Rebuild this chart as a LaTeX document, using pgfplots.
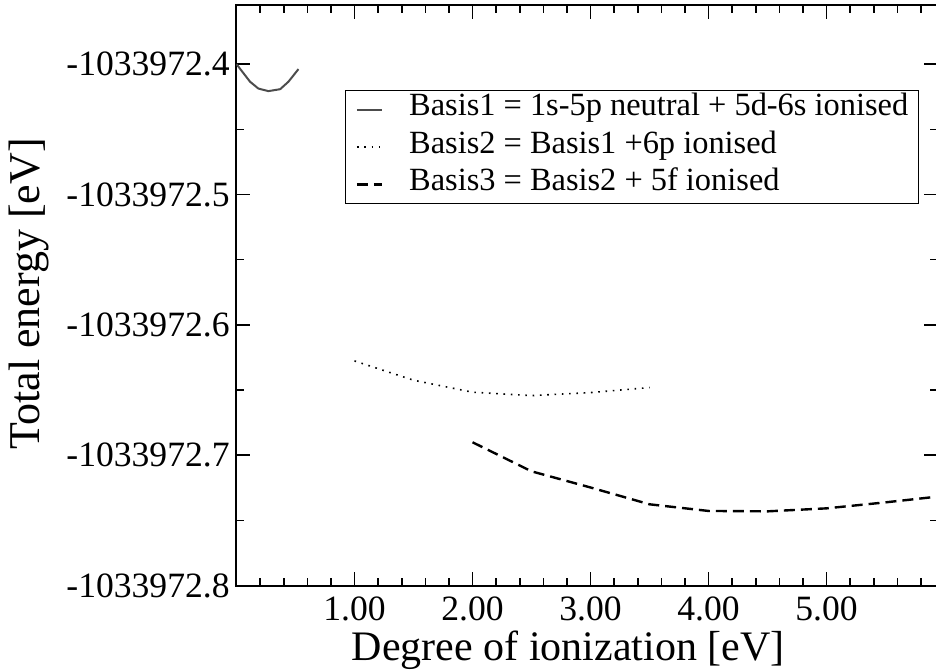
\documentclass[border=0pt]{standalone}
\usepackage{fontspec}
\setmainfont{Liberation Serif}
\usepackage{pgfplots}
\pgfplotsset{compat=1.18}
% y values are total energies written as E + 1033972 (eV)
\begin{document}
\begin{tikzpicture}
\begin{axis}[
  scale only axis, width=350.5pt, height=290pt,
  xmin=0, xmax=5.94, ymin=-0.8, ymax=-0.355,
  axis line style={line width=1pt},
  every tick/.style={black, line width=0.8pt},
  major tick length=7pt, minor tick length=4pt,
  tick align=inside,
  xtick={1,2,3,4,5},
  xticklabels={\textrm{1.00},\textrm{2.00},\textrm{3.00},\textrm{4.00},\textrm{5.00}},
  minor xtick={0.2,0.4,0.6,0.8,1.2,1.4,1.6,1.8,2.2,2.4,2.6,2.8,3.2,3.4,3.6,3.8,4.2,4.4,4.6,4.8,5.2,5.4,5.6,5.8},
  ytick={-0.8,-0.7,-0.6,-0.5,-0.4},
  yticklabels={\textrm{-1033972.8},\textrm{-1033972.7},\textrm{-1033972.6},\textrm{-1033972.5},\textrm{-1033972.4}},
  minor ytick={-0.75,-0.65,-0.55,-0.45},
  /pgf/number format/assume math mode=true,
  ticklabel style={font=\rmfamily\fontsize{17.8}{21}\selectfont},
  xticklabel style={inner sep=0pt, yshift=-5.5pt},
  yticklabel style={inner sep=0pt, xshift=-3.25pt},
  xlabel={Degree of ionization [eV]},
  ylabel={Total energy [eV]},
  label style={inner sep=0pt},
  xlabel style={font=\rmfamily\fontsize{21}{25}\selectfont,
    at={(axis description cs:0.473,0)}, anchor=north, yshift=-22.4pt},
  ylabel style={font=\rmfamily\fontsize{22}{26}\selectfont,
    at={(axis description cs:-0.296,0.503)}, anchor=center},
  legend cell align=left,
  legend style={at={(rel axis cs:0.155,0.854)}, anchor=north west,
    draw=black, line width=0.6pt, fill=white,
    inner xsep=5pt, inner ysep=0pt, column sep=13pt, row sep=0pt,
    font=\rmfamily\fontsize{16.2}{19}\selectfont,
    nodes={inner xsep=0pt, inner ysep=0pt, text height=12.5pt, text depth=6.25pt}},
  legend image code/.code={\path (0pt,0pt); \draw[#1] (0pt,0pt) -- (12.5pt,0pt);},
]
\addplot[color=black!70, line width=1pt, sharp plot] coordinates {
  (0.000,-0.4000) (0.115,-0.4135) (0.185,-0.4187) (0.270,-0.4207)
  (0.370,-0.4192) (0.440,-0.4135) (0.525,-0.4038)
};
\addlegendentry{Basis1 = 1s-5p neutral + 5d-6s ionised}
\addplot[color=black, line width=0.8pt, dash pattern=on 0.8pt off 2.85pt, sharp plot] coordinates {
  (1.0,-0.6277) (1.5,-0.6425) (2.0,-0.6517) (2.5,-0.6543) (3.0,-0.6520) (3.5,-0.6481)
};
\addlegendentry{Basis2 = Basis1 +6p ionised}
\addplot[color=black, line width=1.2pt, dash pattern=on 5.5pt off 3pt, sharp plot] coordinates {
  (2.0,-0.6901) (2.5,-0.7124) (3.0,-0.7248) (3.5,-0.7377) (4.0,-0.7428)
  (4.5,-0.7431) (5.0,-0.7408) (5.5,-0.7362) (6.0,-0.7312)
};
\addlegendentry{Basis3 = Basis2 + 5f ionised}
\coordinate (SW) at (rel axis cs:0,0);
\coordinate (NE) at (rel axis cs:1,1);
\end{axis}
\pgfresetboundingbox
\path[use as bounding box] ([xshift=-118.25pt,yshift=-42.75pt]SW) rectangle ([xshift=-0.75pt,yshift=2.75pt]NE);
\end{tikzpicture}
\end{document}
